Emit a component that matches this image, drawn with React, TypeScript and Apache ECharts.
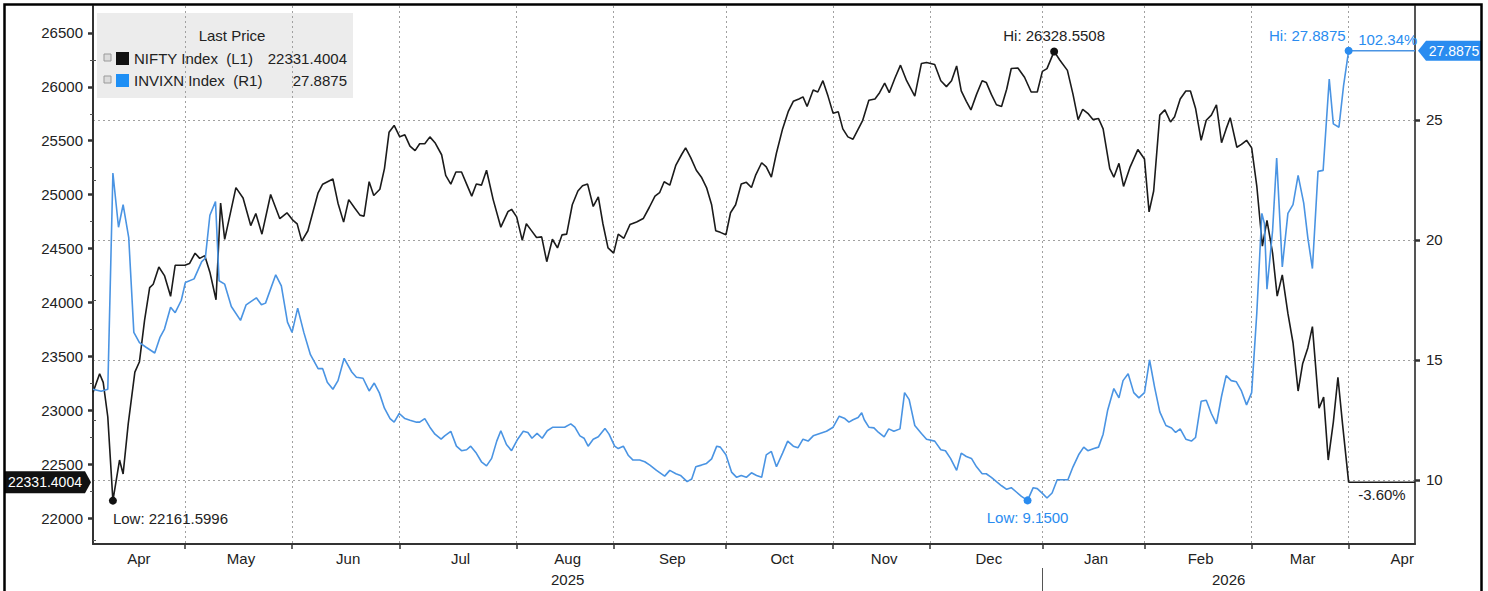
import React, { useEffect, useRef } from "react";
import * as echarts from "echarts";

// ---------- data ----------
const monthLabels = ["Apr", "May", "Jun", "Jul", "Aug", "Sep", "Oct", "Nov", "Dec", "Jan", "Feb", "Mar", "Apr"];
// trading days in each month (x axis is indexed in trading days, 0 = 1 Apr 2025)
const monthTradingDays = [19, 21, 21, 23, 19, 22, 21, 19, 22, 20, 21, 19, 20];
const yearLabels = ["2025", "2026"];
const monthsInFirstYear = 9;

const leftTicks = [22000, 22500, 23000, 23500, 24000, 24500, 25000, 25500, 26000, 26500];
const leftMinorTicks = [22250, 22750, 23250, 23750, 24250, 24750, 25250, 25750, 26250];
const rightTicks = [10, 15, 20, 25];
const rightMinorTicks = [7.5, 12.5, 17.5, 22.5, 27.5];

const niftyName = "NIFTY Index  (L1)";
const vixName = "INVIXN Index  (R1)";
const legendTitle = "Last Price";

// [trading-day index, value]
const nifty: [number, number][] = [
  [0, 23165.7], [1.3, 23338], [2.0, 23258], [2.9, 22937], [3.9, 22161.5996], [5.2, 22538], [5.9, 22409], [6.9, 22873],
  [8.2, 23354], [9.1, 23450], [10.1, 23833], [11.1, 24137], [11.8, 24169], [12.9, 24329], [14.0, 24249], [15.2, 24057],
  [16.1, 24345], [18.0, 24345], [18.9, 24361], [20.0, 24457], [20.9, 24409], [21.9, 24434], [22.9, 24281], [24.1, 24025],
  [25.0, 24922], [25.8, 24585], [28.0, 25065], [29.4, 24969], [30.9, 24713], [31.9, 24825], [33.1, 24633], [34.8, 25001],
  [36.6, 24777], [38.0, 24831], [39.2, 24761], [40.0, 24729], [40.9, 24569], [42.1, 24665], [44.1, 25017], [45.0, 25097],
  [47.0, 25145], [48.0, 24921], [49.1, 24745], [50.1, 24954], [51.3, 24874], [52.3, 24810], [53.1, 24800], [54.1, 25120],
  [55.0, 24992], [56.2, 25050], [57.1, 25242], [58.0, 25578], [59.0, 25642], [60.1, 25536], [61.1, 25555], [62.1, 25450],
  [63.1, 25408], [64.0, 25472], [65.0, 25472], [66.0, 25536], [67.0, 25482], [68.3, 25370], [69.1, 25178], [70.1, 25098],
  [71.1, 25210], [72.2, 25210], [73.2, 25098], [74.2, 24986], [75.1, 25098], [76.1, 25088], [77.1, 25226], [78.4, 24954],
  [79.9, 24698], [81.3, 24842], [82.0, 24864], [83.0, 24794], [84.1, 24576], [84.9, 24730], [85.9, 24666], [86.9, 24602],
  [87.9, 24608], [88.9, 24378], [90.0, 24586], [91.0, 24506], [91.9, 24627], [92.8, 24634], [93.9, 24906], [95.0, 25034],
  [95.9, 25082], [96.9, 25098], [98.0, 24890], [99.0, 24980], [99.9, 24730], [100.9, 24506], [102.0, 24458], [102.9, 24634],
  [104.0, 24595], [105.2, 24722], [106.5, 24746], [107.8, 24778], [109.0, 24883], [110.1, 24986], [111.0, 25018], [111.9, 25120],
  [113.0, 25088], [114.2, 25274], [115.3, 25370], [116.1, 25434], [117.1, 25344], [118.2, 25226], [119.2, 25162], [120.2, 25066],
  [121.2, 24906], [122.0, 24666], [122.9, 24650], [124.0, 24627], [124.9, 24832], [125.9, 24906], [127.0, 25098], [128.0, 25114],
  [129.0, 25066], [129.8, 25178], [131.0, 25296], [131.9, 25258], [132.9, 25162], [133.9, 25386], [135.1, 25610], [136.2, 25770],
  [137.2, 25866], [138.3, 25888], [139.1, 25907], [139.9, 25818], [141.1, 25971], [142.0, 25952], [143.0, 26057], [144.0, 25914],
  [145.0, 25754], [146.0, 25770], [146.9, 25610], [147.9, 25536], [148.9, 25514], [150.8, 25690], [152.0, 25875], [153.2, 25888],
  [154.1, 25946], [155.1, 26034], [156.0, 25946], [157.1, 26080], [158.2, 26201], [159.4, 26057], [161.0, 25914], [162.3, 26217],
  [163.3, 26226], [164.9, 26207], [166.1, 26057], [167.2, 26002], [168.2, 26057], [169.2, 26194], [170.1, 25962], [171.1, 25866],
  [172.0, 25786], [173.1, 25930], [174.2, 26057], [175.0, 26041], [176.0, 25930], [177.0, 25834], [178.0, 25818], [179.0, 25978],
  [179.9, 26170], [181.2, 26175], [182.5, 26089], [183.8, 25952], [185.0, 25952], [186.0, 26143], [186.9, 26169], [188.3, 26328.5508],
  [189.4, 26249], [190.9, 26153], [192.0, 25930], [193.0, 25696], [193.9, 25792], [194.9, 25754], [195.9, 25696], [197.0, 25706],
  [197.9, 25610], [199.2, 25242], [200.0, 25162], [201.0, 25290], [201.9, 25076], [203.2, 25258], [204.7, 25418], [206.0, 25330],
  [206.9, 24840], [207.8, 25034], [209.0, 25738], [210.0, 25786], [211.1, 25674], [211.9, 25722], [213.0, 25888], [214.1, 25962],
  [215.0, 25962], [216.0, 25802], [217.1, 25504], [218.1, 25690], [219.1, 25738], [220.1, 25834], [221.1, 25482], [222.0, 25610],
  [222.8, 25714], [224.1, 25440], [225.0, 25466], [226.0, 25504], [227.0, 25434], [228.0, 25082], [229.1, 24522], [230.0, 24762],
  [231.1, 24458], [232.0, 24058], [233.0, 24256], [234.1, 23898], [235.1, 23626], [236.1, 23178], [237.0, 23434], [238.0, 23578],
  [238.9, 23776], [240.2, 23018], [241.1, 23122], [242.0, 22538], [243.0, 22890], [243.9, 23306], [244.8, 22874], [246.0, 22331.4004],
];

const vix: [number, number][] = [
  [0, 13.7825], [1.6, 13.7], [2.9, 13.78], [3.9, 22.79], [5.0, 20.53], [5.9, 21.47], [7.0, 20.1], [8.0, 16.15],
  [9.1, 15.72], [10.4, 15.53], [12.1, 15.29], [13.1, 15.93], [14.0, 16.29], [15.2, 17.2], [16.1, 16.97], [17.3, 17.49],
  [18.1, 18.23], [19.8, 18.38], [21.3, 19.1], [22.0, 19.24], [22.9, 21.03], [24.0, 21.6], [24.7, 18.3], [25.8, 18.16],
  [27.1, 17.23], [28.9, 16.65], [30.0, 17.3], [32.0, 17.59], [33.0, 17.3], [33.8, 17.37], [35.8, 18.55], [36.9, 18.09],
  [38.1, 16.58], [39.0, 16.15], [40.1, 17.16], [41.3, 16.15], [42.6, 15.22], [44.1, 14.64], [45.0, 14.64], [45.9, 14.07],
  [47.0, 13.78], [48.0, 14.14], [49.2, 15.07], [50.7, 14.5], [51.6, 14.28], [52.9, 14.24], [54.1, 13.71], [55.1, 14.04],
  [56.1, 13.63], [57.1, 12.99], [58.2, 12.56], [59.0, 12.41], [60.0, 12.77], [61.1, 12.56], [62.1, 12.49], [63.4, 12.41],
  [64.0, 12.41], [65.0, 12.56], [66.0, 12.2], [67.0, 11.91], [68.2, 11.7], [68.9, 11.84], [70.1, 12.03], [71.2, 11.41],
  [72.2, 11.22], [73.2, 11.26], [74.0, 11.41], [75.0, 11.15], [76.1, 10.76], [77.1, 10.59], [78.1, 10.9], [79.1, 11.62],
  [79.9, 12.05], [81.0, 11.48], [82.0, 11.22], [83.2, 11.7], [84.3, 12.03], [85.2, 11.98], [86.0, 11.74], [87.0, 11.94],
  [88.0, 11.74], [89.0, 12.05], [90.1, 12.2], [91.5, 12.2], [92.4, 12.2], [93.6, 12.34], [94.4, 12.2], [95.4, 11.84],
  [96.2, 11.74], [97.0, 11.41], [98.0, 11.7], [99.0, 11.8], [100.3, 12.15], [101.1, 11.91], [102.2, 11.41], [102.9, 11.31],
  [103.9, 11.41], [104.9, 11.02], [105.8, 10.83], [107.1, 10.83], [108.1, 10.76], [109.1, 10.62], [110.4, 10.4], [112.0, 10.16],
  [113.0, 10.4], [114.2, 10.26], [115.1, 10.19], [116.4, 9.93], [117.3, 10.04], [118.1, 10.55], [119.2, 10.62], [120.2, 10.69],
  [121.2, 10.88], [122.2, 11.41], [122.9, 11.37], [124.0, 11.05], [125.1, 10.33], [126.1, 10.11], [127.0, 10.19], [128.0, 10.11],
  [129.0, 10.3], [130.0, 10.19], [131.0, 10.11], [131.9, 11.05], [132.9, 11.19], [133.9, 10.55], [135.1, 11.12], [136.1, 11.62],
  [137.2, 11.41], [138.1, 11.34], [139.1, 11.7], [140.1, 11.62], [141.1, 11.84], [142.4, 11.94], [143.7, 12.03], [145.0, 12.2],
  [146.2, 12.66], [147.3, 12.56], [148.1, 12.41], [148.9, 12.51], [149.9, 12.6], [150.6, 12.8], [151.1, 12.51], [152.0, 12.2],
  [153.0, 12.17], [153.9, 11.98], [155.0, 11.8], [155.9, 12.13], [156.9, 12.03], [158.1, 12.13], [159.0, 13.64], [159.9, 13.35],
  [161.0, 12.27], [162.3, 11.94], [163.3, 11.7], [164.9, 11.62], [166.1, 11.26], [167.0, 11.22], [168.0, 10.9], [169.2, 10.4],
  [170.1, 11.12], [171.1, 10.98], [172.1, 10.9], [173.1, 10.55], [174.2, 10.26], [175.0, 10.26], [176.0, 10.11], [177.0, 9.93],
  [178.0, 9.76], [179.0, 9.61], [179.9, 9.68], [180.9, 9.5], [181.9, 9.32], [183.1, 9.15], [184.2, 9.68], [185.0, 9.64],
  [186.0, 9.44], [186.9, 9.25], [187.9, 9.46], [188.9, 10.01], [189.9, 10.01], [191.0, 10.01], [192.0, 10.55], [193.1, 11.05],
  [194.1, 11.37], [194.9, 11.22], [196.1, 11.31], [197.0, 11.37], [197.9, 11.91], [198.8, 12.92], [200.0, 13.81], [201.0, 13.42],
  [201.8, 14.14], [202.8, 14.43], [203.9, 13.64], [204.9, 13.42], [206.0, 13.64], [207.0, 15.0], [208.0, 13.85], [209.0, 12.84],
  [210.2, 12.27], [211.3, 12.17], [212.1, 11.98], [213.0, 12.13], [214.1, 11.7], [215.2, 11.62], [216.0, 11.77], [217.1, 13.28],
  [218.1, 13.32], [219.1, 12.77], [220.1, 12.34], [221.1, 13.49], [222.0, 14.35], [223.0, 14.14], [224.0, 14.09], [225.0, 13.71],
  [226.0, 13.13], [227.0, 13.64], [228.0, 16.94], [229.0, 21.11], [229.5, 20.68], [230.0, 17.95], [231.1, 20.39], [231.9, 23.41],
  [233.0, 18.88], [234.1, 21.11], [235.1, 21.47], [236.1, 22.69], [237.2, 21.54], [238.0, 20.1], [238.9, 18.81], [240.0, 22.86],
  [241.0, 22.9], [242.2, 26.71], [243.0, 24.84], [244.1, 24.7], [245.0, 26.42], [246.0, 27.8875],
];

// ---------- axis ranges ----------
const X_MAX = 259;
const L_MIN = 21759;
const L_MAX = 26750;
const R_MIN = 7.333;
const R_MAX = 29.75;

const FONT = "'Liberation Sans', Arial, sans-serif";
const FS = 15;
const BLACK = "#1b1b1b";
const BLUE_LINE = "#4a94e3";
const BLUE = "#2a8cf0";
const TEXT = "#222";

function extremes(arr: [number, number][]) {
  let lo = arr[0], hi = arr[0];
  for (const p of arr) {
    if (p[1] < lo[1]) lo = p;
    if (p[1] > hi[1]) hi = p;
  }
  return { lo, hi, first: arr[0], last: arr[arr.length - 1] };
}

export default function App() {
  const ref = useRef<HTMLDivElement>(null);

  useEffect(() => {
    if (!ref.current) return;
    const chart = echarts.init(ref.current, null, { renderer: "svg" });

    // month geometry in trading-day units
    const monthEnds: number[] = [];
    let acc = -1;
    monthTradingDays.forEach((d) => {
      acc += d;
      monthEnds.push(acc);
    });
    const monthMids = monthTradingDays.map((d, i) => (i === 0 ? -1 : monthEnds[i - 1]) + d / 2 + 0.5);
    const monthTicks = monthEnds.filter((v) => v <= X_MAX);
    const yearBoundary = monthEnds[monthsInFirstYear - 1];
    const yearMids = [yearBoundary / 2, (yearBoundary + X_MAX) / 2];

    const monthLabelAt = (v: number) => {
      const i = monthMids.findIndex((m) => Math.abs(m - v) < 1e-6);
      return i >= 0 ? monthLabels[i] : "";
    };
    const yearLabelAt = (v: number) => {
      const i = yearMids.findIndex((m) => Math.abs(m - v) < 1e-6);
      return i >= 0 ? yearLabels[i] : "";
    };

    const n = extremes(nifty);
    const v = extremes(vix);
    const nPct = ((n.last[1] / n.first[1] - 1) * 100).toFixed(2) + "%";
    const vPct = ((v.last[1] / v.first[1] - 1) * 100).toFixed(2) + "%";

    const dotted = { type: [2, 3] as any, color: "#a0a0a0", width: 1 };
    const plain = (val: number) => String(val);

    const option: any = {
      animation: false,
      textStyle: { fontFamily: FONT },
      grid: { left: 93, right: 73, top: 6, bottom: 47, containLabel: false },
      xAxis: [
        {
          type: "value",
          min: 0,
          max: X_MAX,
          position: "bottom",
          axisLine: { show: true, onZero: false, lineStyle: { color: "#333", width: 2 } },
          axisTick: { show: true, customValues: monthTicks, length: 5, lineStyle: { color: "#333", width: 1.5 } },
          axisLabel: { customValues: monthMids, formatter: monthLabelAt, fontSize: FS, color: TEXT, margin: 7, fontFamily: FONT },
          splitLine: { show: true, lineStyle: dotted },
        },
        {
          type: "value",
          min: 0,
          max: X_MAX,
          position: "bottom",
          offset: 24,
          axisLine: { show: false },
          axisTick: { show: true, customValues: [yearBoundary], length: 30, lineStyle: { color: "#555", width: 1 } },
          axisLabel: { customValues: yearMids, formatter: yearLabelAt, fontSize: FS, color: TEXT, margin: 4, fontFamily: FONT },
          splitLine: { show: false },
        },
      ],
      yAxis: [
        {
          type: "value",
          min: L_MIN,
          max: L_MAX,
          position: "left",
          axisLine: { show: true, onZero: false, lineStyle: { color: "#333", width: 2 } },
          axisTick: { show: true, customValues: leftTicks, length: 5, lineStyle: { color: "#333", width: 2.5 } },
          axisLabel: { customValues: leftTicks, formatter: plain, fontSize: FS, color: TEXT, margin: 10, fontFamily: FONT },
          splitLine: { show: false },
        },
        {
          type: "value",
          min: R_MIN,
          max: R_MAX,
          position: "right",
          axisLine: { show: true, onZero: false, lineStyle: { color: "#555", width: 2 } },
          axisTick: { show: true, customValues: rightTicks, length: 5, lineStyle: { color: "#333", width: 2.5 } },
          axisLabel: { customValues: rightTicks, formatter: plain, fontSize: FS, color: TEXT, margin: 11, fontFamily: FONT },
          splitLine: { show: true, lineStyle: dotted },
        },
        {
          type: "value",
          min: L_MIN,
          max: L_MAX,
          position: "left",
          axisLine: { show: false },
          axisTick: { show: true, customValues: leftMinorTicks, length: 3, lineStyle: { color: "#555", width: 1 } },
          axisLabel: { show: false },
          splitLine: { show: false },
        },
        {
          type: "value",
          min: R_MIN,
          max: R_MAX,
          position: "right",
          axisLine: { show: false },
          axisTick: { show: true, customValues: rightMinorTicks, length: 3, lineStyle: { color: "#555", width: 1 } },
          axisLabel: { show: false },
          splitLine: { show: false },
        },
      ],
      series: [
        {
          name: niftyName,
          type: "line",
          xAxisIndex: 0,
          yAxisIndex: 0,
          data: nifty,
          showSymbol: false,
          lineStyle: { color: BLACK, width: 1.6 },
          itemStyle: { color: BLACK },
          z: 3,
          markPoint: {
            symbol: "circle",
            symbolSize: 8,
            itemStyle: { color: "#111" },
            label: { show: true, color: TEXT, fontSize: FS, fontFamily: FONT },
            data: [
              { coord: n.lo, label: { formatter: "Low: " + n.lo[1].toFixed(4), position: "bottom", align: "left", distance: 6 } },
              { coord: n.hi, label: { formatter: "Hi: " + n.hi[1].toFixed(4), position: "top", distance: 4 } },
            ],
          },
        },
        {
          name: vixName,
          type: "line",
          xAxisIndex: 0,
          yAxisIndex: 1,
          data: vix,
          showSymbol: false,
          lineStyle: { color: BLUE_LINE, width: 1.6 },
          itemStyle: { color: BLUE_LINE },
          z: 4,
          markPoint: {
            symbol: "circle",
            symbolSize: 8,
            itemStyle: { color: BLUE },
            label: { show: true, color: BLUE, fontSize: FS, fontFamily: FONT },
            data: [
              { coord: v.lo, label: { formatter: "Low: " + v.lo[1].toFixed(4), position: "bottom", distance: 6 } },
              { coord: v.hi, label: { formatter: "Hi: " + v.hi[1].toFixed(4), position: "top", align: "right", distance: 4, offset: [-3, 0] } },
            ],
          },
        },
        {
          name: "nifty-last",
          type: "line",
          xAxisIndex: 0,
          yAxisIndex: 0,
          data: [n.last, [X_MAX, n.last[1]]],
          showSymbol: false,
          clip: false,
          lineStyle: { color: BLACK, width: 1.6 },
          z: 3,
          markPoint: {
            data: [
              {
                coord: n.last,
                symbol: "circle",
                symbolSize: 1,
                itemStyle: { color: "rgba(0,0,0,0)" },
                label: { show: true, formatter: nPct, position: "right", offset: [4, 12], color: TEXT, fontSize: FS, fontFamily: FONT },
              },
              {
                coord: [0, n.last[1]],
                symbol: "path://M0,0L80,0L86,11L80,22L0,22Z",
                symbolSize: [86, 22],
                symbolKeepAspect: false,
                symbolOffset: [-45, 0],
                itemStyle: { color: "#111" },
                label: { show: true, formatter: n.last[1].toFixed(4), position: "inside", offset: [-3, 0], color: "#fff", fontSize: 14, fontFamily: FONT },
              },
            ],
          },
        },
        {
          name: "vix-last",
          type: "line",
          xAxisIndex: 0,
          yAxisIndex: 1,
          data: [v.last, [X_MAX, v.last[1]]],
          showSymbol: false,
          clip: false,
          lineStyle: { color: BLUE_LINE, width: 1.6 },
          z: 4,
          markPoint: {
            data: [
              {
                coord: v.last,
                symbol: "circle",
                symbolSize: 1,
                itemStyle: { color: "rgba(0,0,0,0)" },
                label: { show: true, formatter: vPct, position: "right", offset: [4, -11], color: BLUE, fontSize: FS, fontFamily: FONT },
              },
              {
                coord: [X_MAX, v.last[1]],
                symbol: "path://M0,10L8,0L64,0L64,20L8,20Z",
                symbolSize: [64, 20],
                symbolKeepAspect: false,
                symbolOffset: [35, 0],
                itemStyle: { color: BLUE },
                label: { show: true, formatter: v.last[1].toFixed(4), position: "inside", offset: [4, 0], color: "#fff", fontSize: 14, fontFamily: FONT },
              },
            ],
          },
        },
      ],
      graphic: [
        {
          type: "rect",
          z: -1,
          shape: { x: 97, y: 13, width: 256, height: 85 },
          style: { fill: "#ececec" },
        },
        {
          type: "text",
          z: 10,
          x: 232,
          y: 35,
          style: { text: legendTitle, fill: TEXT, fontSize: FS, fontFamily: FONT, align: "center", verticalAlign: "middle" },
        },
        ...[
          { name: niftyName, color: "#111", value: n.last[1].toFixed(4), y: 58 },
          { name: vixName, color: "#1e8ff5", value: v.last[1].toFixed(4), y: 80 },
        ].flatMap((row) => [
          {
            type: "rect",
            z: 10,
            shape: { x: 104, y: row.y - 4, width: 7, height: 7 },
            style: { fill: "#dcdcdc", stroke: "#9a9a9a", lineWidth: 1 },
          },
          {
            type: "rect",
            z: 10,
            shape: { x: 116, y: row.y - 6, width: 13, height: 13 },
            style: { fill: row.color },
          },
          {
            type: "text",
            z: 10,
            x: 134,
            y: row.y,
            style: { text: row.name, fill: TEXT, fontSize: FS, fontFamily: FONT, align: "left", verticalAlign: "middle" },
          },
          {
            type: "text",
            z: 10,
            x: 347,
            y: row.y,
            style: { text: row.value, fill: TEXT, fontSize: FS, fontFamily: FONT, align: "right", verticalAlign: "middle" },
          },
        ]),
        {
          type: "rect",
          z: 50,
          shape: { x: 4.5, y: 4.5, width: 1477, height: 640 },
          style: { fill: "none", stroke: "#000", lineWidth: 2.5 },
        },
      ],
    };

    chart.setOption(option);
    return () => chart.dispose();
  }, []);

  return (
    <div
      ref={ref}
      style={{ position: "absolute", left: 0, top: 0, width: 1488, height: 591, background: "#fff" }}
    />
  );
}
